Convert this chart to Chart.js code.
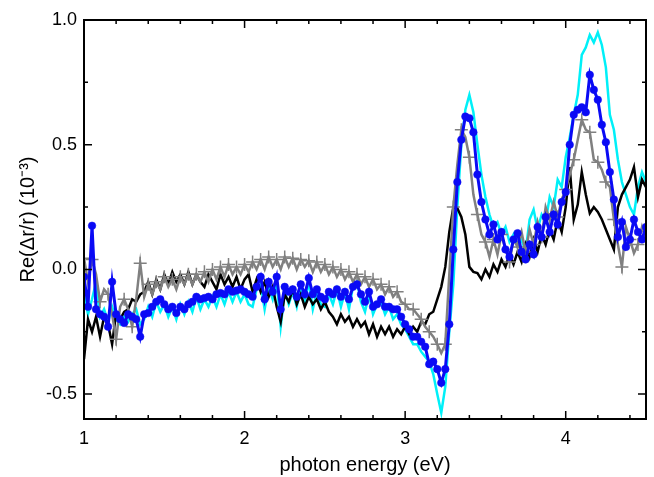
<!DOCTYPE html>
<html><head><meta charset="utf-8">
<script src="https://cdn.jsdelivr.net/npm/chart.js@4"></script>
<style>html,body{margin:0;padding:0;background:#fff;}canvas{display:block;}</style>
</head><body>
<canvas id="c" width="654" height="477"></canvas>
<script>
const energy = [
1,1.025,1.05,1.075,1.1,1.125,1.15,1.175,1.2,1.225,1.25,1.275,1.3,1.325,1.35,1.375,1.4,1.425,1.45,1.475,
1.5,1.525,1.55,1.575,1.6,1.625,1.65,1.675,1.7,1.725,1.75,1.775,1.8,1.825,1.85,1.875,1.9,1.925,1.95,1.975,
2,2.025,2.05,2.075,2.1,2.125,2.15,2.175,2.2,2.225,2.25,2.275,2.3,2.325,2.35,2.375,2.4,2.425,2.45,2.475,
2.5,2.525,2.55,2.575,2.6,2.625,2.65,2.675,2.7,2.725,2.75,2.775,2.8,2.825,2.85,2.875,2.9,2.925,2.95,2.975,
3,3.025,3.05,3.075,3.1,3.125,3.15,3.175,3.2,3.225,3.25,3.275,3.3,3.325,3.35,3.375,3.4,3.425,3.45,3.475,
3.5,3.525,3.55,3.575,3.6,3.625,3.65,3.675,3.7,3.725,3.75,3.775,3.8,3.825,3.85,3.875,3.9,3.925,3.95,3.975,
4,4.025,4.05,4.075,4.1,4.125,4.15,4.175,4.2,4.225,4.25,4.275,4.3,4.325,4.35,4.375,4.4,4.425,4.45,4.475,
4.5];

const blueValues = [
-0.03,-0.15,0.175,-0.16,-0.18,-0.19,-0.23,-0.05,-0.18,-0.20,
-0.215,-0.18,-0.19,-0.20,-0.27,-0.18,-0.175,-0.15,-0.13,-0.12,
-0.14,-0.16,-0.15,-0.175,-0.15,-0.16,-0.14,-0.13,-0.11,-0.12,
-0.115,-0.11,-0.12,-0.10,-0.095,-0.10,-0.08,-0.09,-0.085,-0.08,
-0.09,-0.10,-0.11,-0.07,-0.03,-0.12,-0.05,-0.09,-0.03,-0.16,
-0.07,-0.09,-0.08,-0.11,-0.06,-0.10,-0.035,-0.10,-0.08,-0.11,
-0.12,-0.09,-0.10,-0.08,-0.11,-0.09,-0.12,-0.07,-0.06,-0.10,
-0.13,-0.09,-0.15,-0.14,-0.12,-0.15,-0.15,-0.16,-0.16,-0.19,
-0.22,-0.24,-0.27,-0.27,-0.29,-0.31,-0.38,-0.37,-0.40,-0.455,
-0.40,-0.22,0.08,0.35,0.52,0.613,0.606,0.55,0.38,0.27,
0.20,0.14,0.18,0.12,0.15,0.08,0.05,0.12,0.145,0.07,
0.04,0.10,0.06,0.17,0.13,0.21,0.15,0.22,0.18,0.27,
0.31,0.50,0.62,0.64,0.65,0.63,0.78,0.72,0.68,0.58,
0.51,0.39,0.28,0.13,0.19,0.09,0.12,0.20,0.15,0.12,
0.17];

const grayValues = [
0.045,-0.05,0.04,-0.02,-0.13,-0.08,-0.10,-0.18,-0.28,-0.15,
-0.12,-0.16,-0.23,-0.12,0.025,-0.11,-0.06,-0.10,-0.05,-0.08,
-0.03,-0.07,-0.04,-0.08,-0.03,-0.06,-0.02,-0.06,-0.02,-0.05,
-0.01,-0.05,0.00,-0.04,0.01,-0.03,0.02,-0.02,0.01,-0.02,
0.02,-0.01,0.03,0.00,0.04,0.00,0.05,0.01,0.04,0.00,
0.05,0.01,0.045,0.00,0.04,0.01,0.035,-0.01,0.03,-0.01,
0.02,-0.02,0.01,-0.03,0.00,-0.04,-0.01,-0.05,-0.02,-0.06,
-0.03,-0.07,-0.04,-0.08,-0.06,-0.10,-0.07,-0.11,-0.09,-0.13,
-0.14,-0.16,-0.16,-0.18,-0.20,-0.23,-0.25,-0.27,-0.30,-0.335,
-0.30,-0.02,0.25,0.42,0.56,0.53,0.45,0.30,0.22,0.14,
0.11,0.05,0.12,0.06,0.14,0.08,0.03,0.12,0.09,0.15,
0.07,0.16,0.10,0.19,0.13,0.25,0.20,0.27,0.21,0.28,
0.32,0.38,0.44,0.52,0.60,0.56,0.55,0.44,0.43,0.40,
0.35,0.33,0.20,0.10,0.01,0.17,0.12,0.065,0.10,0.17,
0.12];

const blackValues = [
-0.36,-0.20,-0.25,-0.19,-0.27,-0.19,-0.22,-0.30,-0.175,-0.20,
-0.17,-0.16,-0.12,-0.13,-0.10,-0.09,-0.05,-0.10,-0.04,-0.08,
-0.02,-0.06,-0.01,-0.05,-0.02,-0.06,-0.01,-0.06,-0.02,-0.05,
-0.07,-0.02,-0.05,-0.08,-0.02,-0.06,-0.03,-0.07,-0.03,-0.08,
-0.04,-0.02,-0.09,-0.04,-0.09,-0.05,-0.11,-0.07,-0.15,-0.21,
-0.10,-0.13,-0.08,-0.14,-0.10,-0.15,-0.11,-0.14,-0.12,-0.16,
-0.13,-0.17,-0.19,-0.22,-0.18,-0.21,-0.19,-0.23,-0.20,-0.23,
-0.21,-0.26,-0.22,-0.27,-0.23,-0.26,-0.23,-0.27,-0.24,-0.26,
-0.23,-0.26,-0.23,-0.25,-0.21,-0.22,-0.18,-0.17,-0.12,-0.07,
0.01,0.15,0.25,0.245,0.21,0.14,0.01,-0.01,-0.015,-0.04,
0.00,-0.03,0.02,-0.01,0.04,0.01,0.06,0.02,0.07,0.03,
0.10,0.05,0.12,0.07,0.14,0.10,0.16,0.12,0.20,0.15,
0.25,0.41,0.20,0.26,0.39,0.30,0.225,0.25,0.23,0.20,
0.16,0.12,0.08,0.25,0.30,0.33,0.36,0.41,0.29,0.36,
0.33];

const cyanValues = [
-0.10,-0.18,-0.12,-0.05,-0.19,-0.16,-0.21,-0.15,-0.20,-0.22,
-0.19,-0.21,-0.18,-0.16,-0.22,-0.20,-0.15,-0.19,-0.13,-0.17,
-0.14,-0.19,-0.15,-0.20,-0.14,-0.18,-0.13,-0.17,-0.11,-0.16,
-0.12,-0.15,-0.11,-0.15,-0.10,-0.14,-0.09,-0.13,-0.09,-0.13,
-0.10,-0.14,-0.15,-0.08,-0.06,-0.16,-0.07,-0.12,-0.05,-0.23,
-0.09,-0.14,-0.09,-0.15,-0.07,-0.13,-0.05,-0.16,-0.09,-0.14,
-0.15,-0.10,-0.14,-0.08,-0.15,-0.09,-0.16,-0.07,-0.05,-0.13,
-0.17,-0.10,-0.18,-0.14,-0.13,-0.18,-0.15,-0.20,-0.18,-0.22,
-0.24,-0.27,-0.30,-0.30,-0.33,-0.35,-0.37,-0.42,-0.50,-0.575,
-0.47,-0.25,-0.06,0.25,0.50,0.64,0.70,0.63,0.50,0.38,
0.29,0.22,0.17,0.19,0.14,0.17,0.11,0.14,0.09,0.12,
0.07,0.20,0.24,0.16,0.22,0.19,0.29,0.25,0.36,0.33,
0.45,0.53,0.62,0.70,0.86,0.89,0.94,0.91,0.95,0.90,
0.81,0.62,0.56,0.44,0.35,0.30,0.25,0.22,0.33,0.39,
0.35];

const xMajorTicks = [1, 2, 3, 4];
const xTickLabels = ['1', '2', '3', '4'];
const xMinorTicks = [1.2, 1.4, 1.6, 1.8, 2.2, 2.4, 2.6, 2.8, 3.2, 3.4, 3.6, 3.8, 4.2, 4.4];
const yMajorTicks = [-0.5, 0, 0.5, 1.0];
const yTickLabels = ['-0.5', '0.0', '0.5', '1.0'];
const yMinorTicks = [-0.25, 0.25, 0.75];
const xTitle = 'photon energy (eV)';
const yTitle = 'Re(\u0394r/r) (10\u207B\u00B3)';

const toPoints = vals => energy.map((x, i) => ({x: x, y: vals[i]}));
const FONT = "'Liberation Sans', Arial, sans-serif";

const framePlugin = {
  id: 'frame',
  afterDatasetsDraw(chart) {
    const {ctx, chartArea: a, scales: {x, y}} = chart;
    ctx.save();
    ctx.strokeStyle = '#000';
    ctx.lineWidth = 1.5;
    ctx.beginPath();
    const xt = (v, len) => {
      const p = x.getPixelForValue(v);
      ctx.moveTo(p, a.bottom); ctx.lineTo(p, a.bottom - len);
      ctx.moveTo(p, a.top); ctx.lineTo(p, a.top + len);
    };
    const yt = (v, len) => {
      const p = y.getPixelForValue(v);
      ctx.moveTo(a.left, p); ctx.lineTo(a.left + len, p);
      ctx.moveTo(a.right, p); ctx.lineTo(a.right - len, p);
    };
    xMajorTicks.forEach(v => xt(v, 8));
    xMinorTicks.forEach(v => xt(v, 4));
    yMajorTicks.forEach(v => yt(v, 8));
    yMinorTicks.forEach(v => yt(v, 4));
    ctx.stroke();
    ctx.lineWidth = 2;
    ctx.strokeRect(a.left, a.top, a.right - a.left, a.bottom - a.top);
    ctx.restore();
  }
};

new Chart(document.getElementById('c'), {
  type: 'line',
  data: {
    datasets: [
      {label: 'blue', data: toPoints(blueValues), borderColor: '#0a0af5', backgroundColor: '#0a0af5',
       borderWidth: 3, pointRadius: 3.8, pointStyle: 'circle', pointBorderWidth: 0.5, pointBorderColor: '#0a0af5'},
      {label: 'gray', data: toPoints(grayValues), borderColor: '#808080', backgroundColor: '#808080',
       borderWidth: 2.5, pointStyle: 'cross', pointBorderColor: '#808080', pointBorderWidth: 1.5,
       pointRadius: ctx => (ctx.dataIndex % 2 === 0 ? 6.5 : 0)},
      {label: 'black', data: toPoints(blackValues), borderColor: '#000000', borderWidth: 2.5, pointRadius: 0},
      {label: 'cyan', data: toPoints(cyanValues), borderColor: '#00f0f8', borderWidth: 2.5, pointRadius: 0}
    ]
  },
  options: {
    responsive: false,
    animation: false,
    devicePixelRatio: 1,
    layout: {padding: {top: 20, right: 6, left: 0, bottom: 0}},
    plugins: {legend: {display: false}, tooltip: {enabled: false}},
    elements: {line: {tension: 0}},
    scales: {
      x: {
        type: 'linear', min: 1, max: 4.5,
        afterBuildTicks: s => { s.ticks = xMajorTicks.map(v => ({value: v})); },
        afterFit: s => { s.height = 58; },
        grid: {display: false, drawTicks: false},
        border: {display: false},
        ticks: {padding: 9, color: '#000', font: {family: FONT, size: 18},
                callback: (v) => xTickLabels[xMajorTicks.indexOf(v)]},
        title: {display: true, text: xTitle, color: '#000', font: {family: FONT, size: 20},
                padding: {top: 0, bottom: 0}}
      },
      y: {
        type: 'linear', min: -0.6, max: 1.0,
        afterBuildTicks: s => { s.ticks = yMajorTicks.map(v => ({value: v})); },
        afterFit: s => { s.width = 84; },
        grid: {display: false, drawTicks: false},
        border: {display: false},
        ticks: {padding: 7, color: '#000', font: {family: FONT, size: 18},
                callback: (v) => yTickLabels[yMajorTicks.indexOf(v)]},
        title: {display: true, text: yTitle, color: '#000', font: {family: FONT, size: 20},
                padding: {top: 16, bottom: 0}}
      }
    }
  },
  plugins: [framePlugin]
});
</script>
</body></html>
